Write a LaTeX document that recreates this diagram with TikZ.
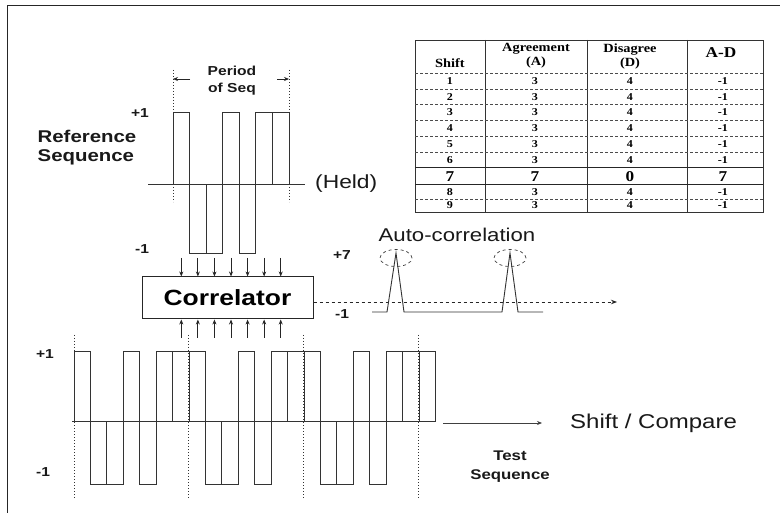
\documentclass[tikz,border=0pt]{standalone}
\usepackage{fontspec}
\usetikzlibrary{arrows.meta,shapes.geometric}
\newfontfamily\lsans[FakeStretch=1.2]{Liberation Sans}
\newfontfamily\lserif[FakeStretch=1.15]{Liberation Serif}
\begin{document}
\begin{tikzpicture}[x=1pt,y=-1pt,
  wave/.style={line width=0.9pt, draw=black!80},
  dotl/.style={dotted, line width=1pt, draw=black!80},
  arr/.style={line width=0.8pt, draw=black!85, -{Stealth[length=5pt,width=4pt]}},
  lab/.style={inner sep=0pt, text=black!90},
  tline/.style={line width=0.6pt, draw=black!80},
  tdash/.style={line width=0.5pt, draw=black!70, densely dashed},
  tnum/.style={inner sep=0pt, font=\lserif\bfseries\fontsize{10.5}{12}\selectfont},
  tbig/.style={inner sep=0pt, font=\lserif\bfseries\fontsize{15}{16}\selectfont},
  thead/.style={inner sep=0pt, align=center, font=\lserif\bfseries\fontsize{12.5}{14}\selectfont}
]
\useasboundingbox (0,0) rectangle (780,513);
\fill[white] (0,0) rectangle (780,513);
% frame
\draw[line width=1pt, black!85] (7.5,513) -- (7.5,5.5) -- (780,5.5);

% ---------------- table ----------------
\draw[tline] (415,40) rectangle (763,212);
\foreach \xx in {485,587,687} \draw[tline] (\xx,40) -- (\xx,212);
\draw[tdash] (415,73) -- (763,73);
\foreach \yy in {88.8,104.6,120.4,136.2,152,199} \draw[tdash] (415,\yy) -- (763,\yy);
\draw[line width=1pt, black!85] (415,168) -- (763,168);
\draw[line width=1pt, black!85] (415,185) -- (763,185);
\node[thead] (hs) at (450,63) {Shift};
\node[thead] (ha) at (536,56) {Agreement\\(A)};
\node[thead] (hd) at (630,56) {Disagree\\(D)};
\node[tbig] (had) at (721,53) {A-D};
\foreach \r/\yy in {1/80.9,2/96.7,3/112.5,4/128.3,5/144.1,6/159.9,8/192,9/205.5}{
  \node[tnum] (s\r) at (450,\yy) {\r};
  \node[tnum] (a\r) at (535,\yy) {3};
  \node[tnum] (d\r) at (630,\yy) {4};
  \node[tnum] (m\r) at (723,\yy) {-1};
}
\node[tbig] (s7) at (450,176.5) {7};
\node[tbig] (a7) at (535,176.5) {7};
\node[tbig] (d7) at (630,176.5) {0};
\node[tbig] (m7) at (723,176.5) {7};

% ---------------- reference sequence ----------------
\draw[wave] (148,184) -- (305,184);
\foreach \lv [count=\i from 0] in {112,253,253,112,253,112,112}
  \draw[wave] ({173+\i*16.57},184) rectangle ({173+(\i+1)*16.57},\lv);
\draw[dotl] (173,70) -- (173,202);
\draw[dotl] (289,70) -- (289,202);
\node[lab, align=center, font=\lsans\bfseries\fontsize{13}{17}\selectfont] (period) at (232,81) {Period\\of Seq};
\coordinate (pl) at (173,79);
\coordinate (pr) at (289,79);
\draw[arr] (190,79) -- (pl);
\draw[arr] (277,79) -- (pr);
\node[lab, font=\lsans\bfseries\fontsize{13}{15}\selectfont] (rp1) at (140,113) {+1};
\node[lab, font=\lsans\bfseries\fontsize{13}{15}\selectfont] (rm1) at (142,249) {-1};
\node[lab, align=left, font=\lsans\bfseries\fontsize{17}{19}\selectfont] (refl) at (87,147.5) {Reference\\Sequence};
\node[lab, anchor=west, font=\lsans\fontsize{19}{21}\selectfont] (held) at (315,184) {(Held)};

% ---------------- correlator ----------------
\node[draw, line width=1pt, black!85, minimum width=171pt, minimum height=42pt, inner sep=0pt,
      font=\lsans\bfseries\fontsize{22}{24}\selectfont, text=black] (corr) at (227.5,298) {Correlator};
\foreach \k in {0,...,6}{
  \coordinate (ti\k) at ({181.3+\k*16.57},258);
  \coordinate (bi\k) at ({181.3+\k*16.57},338);
  \draw[arr] (ti\k) -- (ti\k |- corr.north);
  \draw[arr] (bi\k) -- (bi\k |- corr.south);
}
\coordinate (acend) at (617,302);
\draw[line width=0.9pt, black!85, dashed, -{Stealth[length=6pt,width=4.5pt]}] ([yshift=-4pt]corr.east) -- (acend);

% ---------------- auto-correlation ----------------
\node[lab, font=\lsans\fontsize{18.5}{20}\selectfont] (actitle) at (457,235) {Auto-correlation};
\node[lab, font=\lsans\bfseries\fontsize{13}{15}\selectfont] (ap7) at (342,255) {+7};
\node[lab, font=\lsans\bfseries\fontsize{13}{15}\selectfont] (am1) at (342,314) {-1};
\draw[wave, line join=miter] (372,312) -- (387,312) -- (396,253) -- (404,312) -- (502,312) -- (510,253) -- (518,312) -- (543,312);
\node[draw, dashed, ellipse, line width=0.7pt, black!75, minimum width=32pt, minimum height=17pt, inner sep=0pt] (e1) at (396,258) {};
\node[draw, dashed, ellipse, line width=0.7pt, black!75, minimum width=32pt, minimum height=17pt, inner sep=0pt] (e2) at (510,258) {};

% ---------------- test sequence ----------------
\draw[wave] (72,421) -- (436,421);
\foreach \lv [count=\i from 0] in {351,484,484,351,484,351,351,351,484,484,351,484,351,351,351,484,484,351,484,351,351,351}
  \draw[wave] ({74+\i*16.43},421) rectangle ({74+(\i+1)*16.43},\lv);
\foreach \xx in {74,188.9,303.9,418.9} \draw[dotl] (\xx,335) -- (\xx,498);
\node[lab, font=\lsans\bfseries\fontsize{13}{15}\selectfont] (tp1) at (45,354) {+1};
\node[lab, font=\lsans\bfseries\fontsize{13}{15}\selectfont] (tm1) at (43,472) {-1};
\coordinate (sh0) at (443,423);
\node[lab, anchor=west, font=\lsans\fontsize{20}{22}\selectfont] (shift) at (570,423) {Shift / Compare};
\draw[line width=0.7pt, black!75, -{Stealth[length=5pt,width=4pt]}] (sh0) -- (542,423);
\node[lab, align=center, font=\lsans\bfseries\fontsize{14}{19}\selectfont] (testl) at (510,466.5) {Test\\Sequence};
\end{tikzpicture}
\end{document}
